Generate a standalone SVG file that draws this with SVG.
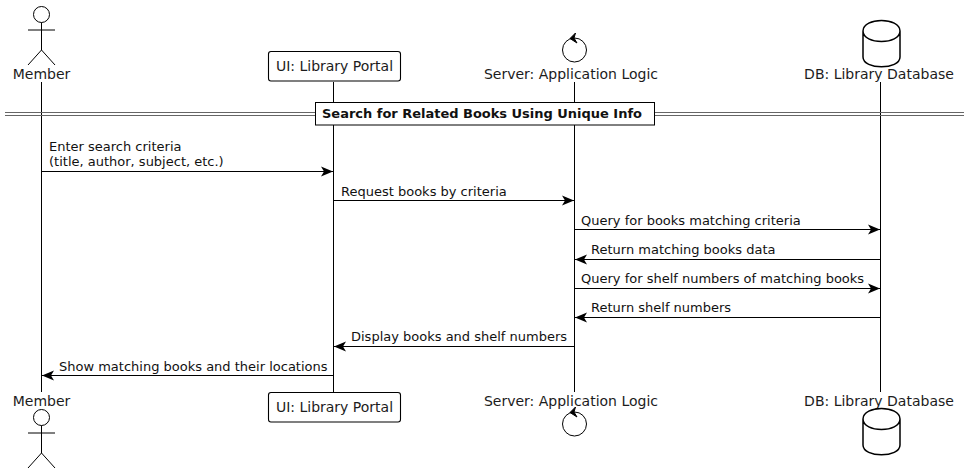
<svg xmlns="http://www.w3.org/2000/svg" width="970" height="473" viewBox="0 0 970 473">
<style>
text{font-family:"DejaVu Sans",sans-serif;font-size:13px;fill:#111}
.p{font-size:14px;fill:#1c1c1c;text-anchor:middle}
.s{fill:none;stroke:#000;stroke-width:1}
.b{fill:#fff;stroke:#000;stroke-width:1.1}
.c{fill:#fff;stroke:#000;stroke-width:1.5}
.m{stroke:#000;stroke-width:1;fill:none}
.d{fill:none;stroke:#666;stroke-width:1}
</style>
<defs>
<marker id="a" markerUnits="userSpaceOnUse" markerWidth="14" markerHeight="12" refX="12" refY="5" orient="auto" viewBox="0 0 14 10"><path d="M0 0L12 5L0 10L3 5Z" fill="#000"/></marker>
<g id="actor" class="s"><circle cx="41.5" cy="14.5" r="8"/><path d="M41.5 22.500V50M28 30H55M28 65L41.5 50L55 65"/></g>
<g id="ctrl"><circle cx="574.5" cy="50" r="12" class="s"/><path d="M575.500 33L570 38.500L577 43L574 38Z" fill="#000" stroke="#000"/></g>
<g id="db"><path class="c" d="M863 31C863 17 900 17 900 31V57C900 70 863 70 863 57ZM863 31C863 45 900 45 900 31"/></g>
</defs>
<g id="lifelines" class="s">
<path d="M41.500 82V392M333.500 82V392M574.500 82V392M880.500 82V392"/>
</g>
<g id="divider">
<path class="d" d="M5 112.500H964M5 115.500H964"/>
<rect x="315.500" y="102.500" width="339" height="22.500" fill="#fff" stroke="#000" stroke-width="1"/>
<text x="322" y="118" style="font-weight:700" textLength="320">Search for Related Books Using Unique Info</text>
</g>
<g id="connectors">
<path class="m" marker-end="url(#a)" d="M41.500 171.500H333"/>
<path class="m" marker-end="url(#a)" d="M333.500 200.500H574"/>
<path class="m" marker-end="url(#a)" d="M574.500 229.500H880"/>
<path class="m" marker-end="url(#a)" d="M880.500 259.500H575"/>
<path class="m" marker-end="url(#a)" d="M574.500 288.500H880"/>
<path class="m" marker-end="url(#a)" d="M880.500 317.500H575"/>
<path class="m" marker-end="url(#a)" d="M574.500 346.500H334"/>
<path class="m" marker-end="url(#a)" d="M333.500 375.500H42"/>
<text x="49" y="151">Enter search criteria</text>
<text x="49" y="166">(title, author, subject, etc.)</text>
<text x="341" y="196">Request books by criteria</text>
<text x="581" y="225">Query for books matching criteria</text>
<text x="591" y="254">Return matching books data</text>
<text x="581" y="283">Query for shelf numbers of matching books</text>
<text x="591" y="312">Return shelf numbers</text>
<text x="351" y="341">Display books and shelf numbers</text>
<text x="59" y="371">Show matching books and their locations</text>
</g>
<g id="member-top"><use href="#actor"/><text class="p" x="41.500" y="79">Member</text></g>
<g id="ui-top"><rect class="b" x="268.500" y="51.500" width="132" height="29.500" rx="2.500"/><text class="p" x="334.500" y="71">UI: Library Portal</text></g>
<g id="server-top"><use href="#ctrl"/><text class="p" x="571" y="79">Server: Application Logic</text></g>
<g id="db-top"><use href="#db"/><text class="p" x="879" y="79">DB: Library Database</text></g>
<g id="member-bottom"><use href="#actor" y="403"/><text class="p" x="41.500" y="406">Member</text></g>
<g id="ui-bottom"><rect class="b" x="268.500" y="392.500" width="132" height="29.500" rx="2.500"/><text class="p" x="334.500" y="412">UI: Library Portal</text></g>
<g id="server-bottom"><text class="p" x="571" y="406">Server: Application Logic</text><use href="#ctrl" y="374"/></g>
<g id="db-bottom"><text class="p" x="879" y="406">DB: Library Database</text><use href="#db" y="388"/></g>
</svg>
